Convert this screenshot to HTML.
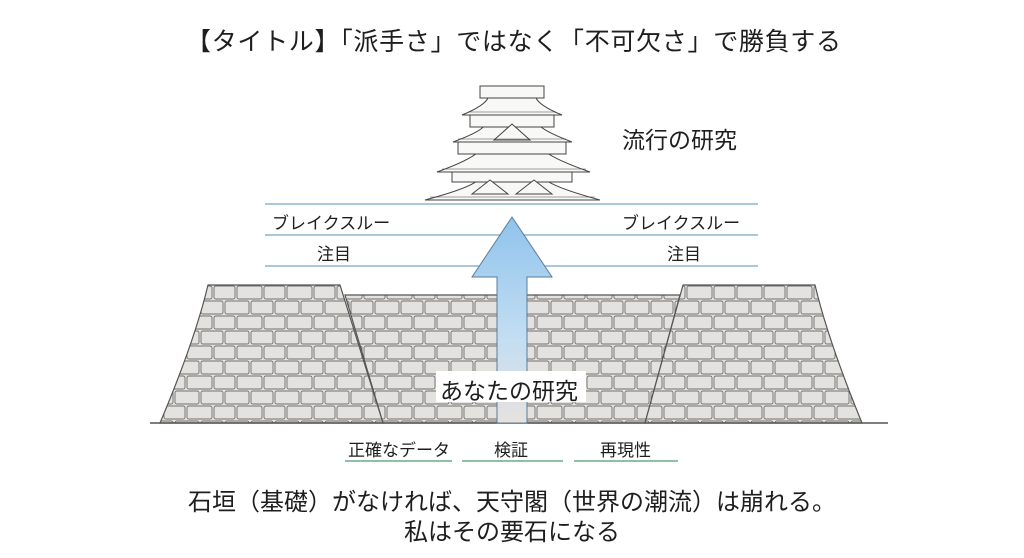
<!DOCTYPE html>
<html><head><meta charset="utf-8"><style>
html,body{margin:0;padding:0;background:#fff;}
body{width:1024px;height:558px;position:relative;overflow:hidden;font-family:"Liberation Sans","Noto Sans CJK JP",sans-serif;color:#1e1e1e;}
.t{position:absolute;white-space:nowrap;}
</style></head><body>
<svg width="1024" height="558" style="position:absolute;left:0;top:0">
<defs>
<pattern id="st" width="50" height="30" patternUnits="userSpaceOnUse">
<rect width="50" height="30" fill="#e4e2df"/>
<g fill="none" stroke="#707070" stroke-width="0.9">
<rect x="1" y="1" width="22" height="13" rx="2"/>
<rect x="25" y="1" width="24" height="13" rx="2"/>
<rect x="-12" y="16" width="24" height="13" rx="2"/>
<rect x="14" y="16" width="21" height="13" rx="2"/>
<rect x="37" y="16" width="24" height="13" rx="2"/>
</g>
</pattern>
<linearGradient id="ag" x1="0" y1="0" x2="0" y2="1">
<stop offset="0" stop-color="#8fc3ec"/><stop offset="0.6" stop-color="#c4def2"/><stop offset="1" stop-color="#e6e2de"/>
</linearGradient>
</defs>
<path d="M345,295 L680,295 L645,423 L383,423 Z" fill="url(#st)" stroke="#555" stroke-width="1.2"/>
<path d="M160,423 Q195,340 208,285 L340,285 L383,423 Z" fill="url(#st)" stroke="#555" stroke-width="1.2"/>
<path d="M862,423 Q828,340 815,285 L683,285 L645,423 Z" fill="url(#st)" stroke="#555" stroke-width="1.2"/>
<line x1="150" y1="423" x2="888" y2="423" stroke="#555" stroke-width="1.5"/>
<g stroke="#8fb5cf" stroke-width="1.5">
<line x1="265" y1="204" x2="758" y2="204"/>
<line x1="265" y1="235" x2="758" y2="235"/>
<line x1="265" y1="266" x2="758" y2="266"/>
</g>
<path d="M512,217 L552,277 L527,277 L527,423 L497,423 L497,277 L472,277 Z" fill="url(#ag)" stroke="#5a7d99" stroke-width="1"/>
<g stroke="#444" stroke-width="1" fill="#f8f8f6">
<path d="M425,200 Q470,188 478,180 L546,180 Q556,188 600,200 Z"/>
<rect x="452" y="172" width="120" height="10"/>
<path d="M437,172 Q470,160 478,152 L546,152 Q556,160 590,172 Z"/>
<rect x="458" y="142" width="108" height="12"/>
<path d="M453,142 Q480,132 484,126 L540,126 Q546,132 572,142 Z"/>
<rect x="470" y="115" width="84" height="12"/>
<path d="M462,115 Q484,106 488,98 L536,98 Q540,106 562,115 Z"/>
<rect x="480" y="86" width="64" height="12"/>
<path d="M494,140 L512,124 L530,140 Z"/>
<path d="M472,194 L490,180 L508,194 Z"/>
<path d="M516,194 L534,180 L552,194 Z"/>
</g>
<g stroke="#444" stroke-width="0.6">
<line x1="430" y1="197" x2="595" y2="197"/>
<line x1="442" y1="169" x2="586" y2="169"/>
<line x1="458" y1="139" x2="566" y2="139"/>
<line x1="468" y1="112" x2="556" y2="112"/>
</g>
<rect x="436" y="371" width="150" height="31" fill="#fff"/>
<g stroke="#8cc2a2" stroke-width="2">
<line x1="345" y1="461" x2="452" y2="461"/>
<line x1="462" y1="461" x2="563" y2="461"/>
<line x1="574" y1="461" x2="678" y2="461"/>
</g>
</svg>
<div class="t" style="left:186px;top:22px;font-size:25px;letter-spacing:0.7px;">【タイトル】「派手さ」ではなく「不可欠さ」で勝負する</div>
<div class="t" style="left:622px;top:121px;font-size:23px;">流行の研究</div>
<div class="t" style="left:272px;top:209px;font-size:17px;">ブレイクスルー</div>
<div class="t" style="left:622px;top:209px;font-size:17px;">ブレイクスルー</div>
<div class="t" style="left:317px;top:240px;font-size:17px;">注目</div>
<div class="t" style="left:667px;top:240px;font-size:17px;">注目</div>
<div class="t" style="left:440px;top:372px;font-size:23px;">あなたの研究</div>
<div class="t" style="left:348px;top:436px;font-size:17px;">正確なデータ</div>
<div class="t" style="left:494px;top:436px;font-size:17px;">検証</div>
<div class="t" style="left:600px;top:436px;font-size:17px;">再現性</div>
<div class="t" style="left:0;width:1024px;text-align:center;top:482px;font-size:24px;">石垣（基礎）がなければ、天守閣（世界の潮流）は崩れる。</div>
<div class="t" style="left:0;width:1024px;text-align:center;top:512px;font-size:24px;">私はその要石になる</div>
</body></html>
